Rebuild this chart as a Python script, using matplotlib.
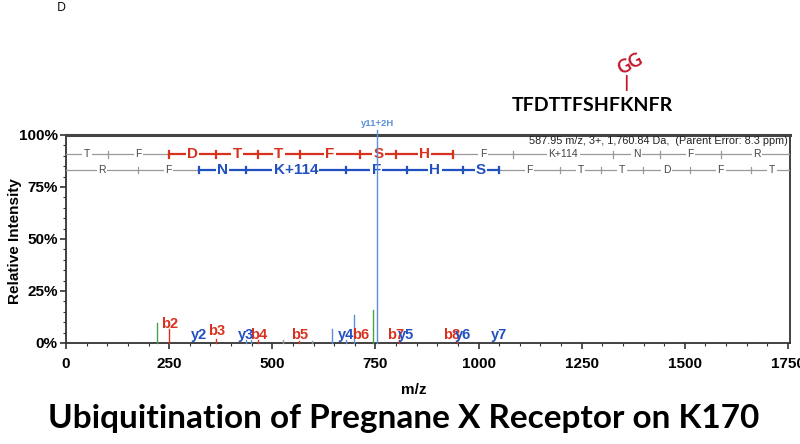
import numpy as np
import matplotlib
matplotlib.use("Agg")
import matplotlib.pyplot as plt

# ---- data ----
peak_mz = [221, 250, 364, 436, 449, 465, 525, 566, 596, 646, 678, 697, 745, 755, 807, 948]
peak_int = [9.5, 6.5, 2.0, 1.5, 1.2, 1.5, 1.5, 1.0, 1.0, 6.7, 1.5, 13.4, 15.8, 100, 1.5, 1.2]
peak_col = ["g", "r", "r", "b", "b", "r", "k", "r", "k", "b", "b", "b", "g", "b", "r", "r"]

# fragment labels (m/z, y-pos in %)
b_lab = ["b2", "b3", "b4", "b5", "b6", "b7", "b8"]
b_mz = [252, 366, 466, 567, 713, 798, 935]
b_y = [9.3, 5.6, 3.9, 3.9, 3.9, 3.9, 3.9]
y_lab = ["y2", "y3", "y4", "y5", "y6", "y7"]
y_mz = [322, 436, 678, 825, 962, 1049]
y_y = [3.9, 3.9, 3.9, 3.9, 3.9, 3.9]

# sequence ladders
b_res = ["T", "F", "D", "T", "T", "F", "S", "H", "F", "K+114", "N", "F", "R"]
b_ions = [0, 102.05, 249.12, 364.15, 465.19, 566.24, 713.31, 800.34, 937.40,
          1084.47, 1326.60, 1440.64, 1587.71, 1761.8]
y_res = ["R", "F", "N", "K+114", "F", "H", "S", "F", "T", "T", "D", "F", "T"]
y_ions = [0, 175.12, 322.19, 436.23, 678.36, 825.43, 962.49, 1049.52,
          1196.59, 1297.64, 1398.69, 1513.72, 1660.79, 1761.8]
b_hi = (2, 8)   # colored between b2 and b8
y_hi = (2, 7)   # colored between y2 and y7

RED = "#d8321f"
BLUE = "#2150c0"
PBLUE = "#5b8fd8"
GREEN = "#4aa04a"
GRAY = "#999999"
cmap = {"r": RED, "b": PBLUE, "g": GREEN, "k": "#8a9aa8"}

ax_font = ["Liberation Sans Narrow", "Liberation Sans", "DejaVu Sans"]

fig = plt.figure(figsize=(8, 4.44), dpi=100)
ax = fig.add_axes([0.0825, 0.2275, 0.905, 0.4685])

for m, h, c in zip(peak_mz, peak_int, peak_col):
    top = 102.5 if h >= 100 else h
    ax.plot([m, m], [0, top], color=cmap[c], lw=1.0, clip_on=False, zorder=7)

ax.text(755, 103.5, "y11+2H", color=PBLUE, fontsize=6.8, fontweight="bold",
        ha="center", va="bottom", family=ax_font)

for lab, m, yy in zip(b_lab, b_mz, b_y):
    ax.text(m, yy, lab, color=RED, fontsize=10.5, fontweight="bold",
            ha="center", va="center", family=ax_font, zorder=8)
for lab, m, yy in zip(y_lab, y_mz, y_y):
    ax.text(m, yy, lab, color=BLUE, fontsize=10.5, fontweight="bold",
            ha="center", va="center", family=ax_font, zorder=8)


def ladder(ions, res, hi, ypos, col):
    xmax = 1755
    for i in range(len(res)):
        x0, x1 = ions[i], ions[i + 1]
        colored = hi[0] <= i < hi[1]
        c = col if colored else GRAY
        lw = 1.6 if colored else 0.9
        mid = (x0 + x1) / 2
        ax.plot([x0, min(x1, xmax)], [ypos, ypos], color=c, lw=lw, zorder=3)
        if colored:
            ax.text(mid, ypos, res[i], color=col, fontsize=11, fontweight="bold",
                    ha="center", va="center", family=ax_font, zorder=5,
                    bbox=dict(boxstyle="square,pad=0.08", fc="white", ec="none"))
        else:
            ax.text(mid, ypos, res[i], color="#444444", fontsize=7.5,
                    ha="center", va="center", family=ax_font, zorder=5,
                    bbox=dict(boxstyle="square,pad=0.15", fc="white", ec="none"))
    for i in range(1, len(ions) - 1):
        colored = hi[0] <= i <= hi[1]
        c = col if colored else GRAY
        lw = 1.6 if colored else 0.9
        ax.plot([ions[i], ions[i]], [ypos - 1.6, ypos + 1.6], color=c, lw=lw, zorder=4)


ladder(b_ions, b_res, b_hi, 90.7, RED)
ladder(y_ions, y_res, y_hi, 83.2, BLUE)

ax.text(1750, 97.2, "587.95 m/z, 3+, 1,760.84 Da,  (Parent Error: 8.3 ppm)",
        fontsize=7.8, ha="right", va="center", family=ax_font, color="#222222")

ax.set_xlim(0, 1755)
ax.set_ylim(0, 100)
ax.set_xticks(np.arange(0, 1751, 250))
ax.set_xticks(np.arange(0, 1751, 50), minor=True)
ax.set_yticks([0, 25, 50, 75, 100])
ax.set_yticklabels(["0%", "25%", "50%", "75%", "100%"])
ax.set_yticks(np.arange(0, 101, 5), minor=True)
for lbl in ax.get_xticklabels() + ax.get_yticklabels():
    lbl.set_family(ax_font)
    lbl.set_fontweight("bold")
    lbl.set_fontsize(11)
ax.tick_params(which="major", length=4, width=1.2, color="#333333", pad=2)
ax.tick_params(which="minor", length=2.5, width=0.8, color="#333333")
ax.tick_params(axis="x", which="major", pad=6)
for s in ["left", "bottom", "right"]:
    ax.spines[s].set_color("#333333")
    ax.spines[s].set_linewidth(1.3)
ax.spines["top"].set_color("#444444")
ax.spines["top"].set_linewidth(2.2)

ax.set_xlabel("m/z", fontsize=11, fontweight="bold", family=ax_font)
ax.xaxis.set_label_coords(0.48, -0.19)
ax.set_ylabel("Relative Intensity", fontsize=11, fontweight="bold", family=ax_font)
ax.yaxis.set_label_coords(-0.061, 0.49)

# headings
fig.text(0.077, 0.984, "D", fontsize=9, ha="center", va="center", family="Open Sans")
fig.text(0.741, 0.763, "TFDTTFSHFKNFR", fontsize=14, fontweight="bold",
         ha="center", va="center", family="Lato")
fig.text(0.7825, 0.812, "|", fontsize=11, fontweight="bold", color="#c0192b",
         ha="center", va="center", family="DejaVu Sans")
fig.text(0.7875, 0.856, "GG", fontsize=13, fontweight="bold", color="#c0192b",
         ha="center", va="center", rotation=28, family="Lato")
fig.text(0.505, 0.058, "Ubiquitination of Pregnane X Receptor on K170", fontsize=24,
         fontweight="bold", ha="center", va="center", family="Lato")

fig.savefig("out.png", dpi=100)
